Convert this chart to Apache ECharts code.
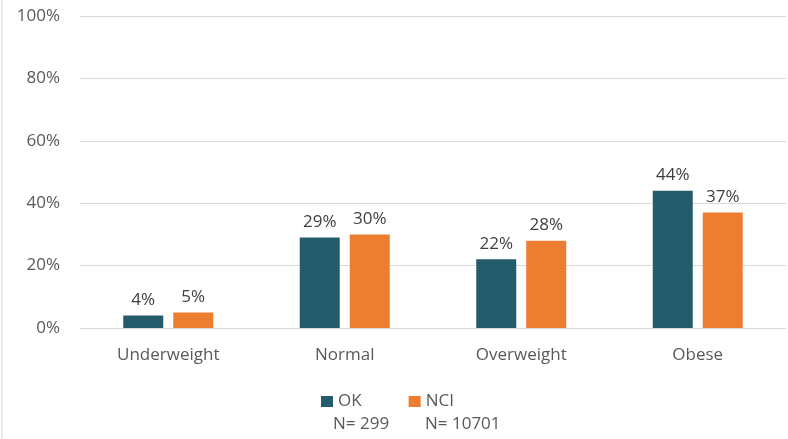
<!DOCTYPE html>
<html>
<head>
<meta charset="utf-8">
<script src="https://cdn.jsdelivr.net/npm/echarts@6/dist/echarts.min.js"></script>
<style>html,body{margin:0;padding:0;background:#fff}#c{width:788px;height:439px}</style>
</head>
<body>
<div id="c"></div>
<script>
var categories = ['Underweight', 'Normal', 'Overweight', 'Obese'];
var okValues = [4, 29, 22, 44];
var nciValues = [5, 30, 28, 37];
var yTicks = [0, 20, 40, 60, 80, 100];
var seriesNames = ['OK', 'NCI'];
var sampleSizes = ['N= 299', 'N= 10701'];

var FONT = '"Open Sans", sans-serif';
var chart = echarts.init(document.getElementById('c'), null, {renderer: 'canvas'});
chart.setOption({
  animation: false,
  textStyle: {fontFamily: FONT},
  grid: {left: 80, right: 2, top: 16, bottom: 111, containLabel: false},
  legend: {
    data: seriesNames,
    left: 316, top: 388,
    itemWidth: 12, itemHeight: 11, itemGap: 47,
    icon: 'rect',
    textStyle: {fontSize: 17, color: '#595959', fontFamily: FONT}
  },
  graphic: [
    {type: 'line', shape: {x1: 2, y1: 0, x2: 2, y2: 439}, style: {stroke: '#d9d9d9', lineWidth: 1}},
    {type: 'text', left: 333, top: 416, style: {text: sampleSizes[0], fontSize: 17, fill: '#595959', fontFamily: FONT}},
    {type: 'text', left: 425, top: 416, style: {text: sampleSizes[1], fontSize: 17, fill: '#595959', fontFamily: FONT}}
  ],
  xAxis: {
    type: 'category',
    data: categories,
    axisLine: {lineStyle: {color: '#d9d9d9', width: 1}},
    axisTick: {show: false},
    axisLabel: {fontSize: 17, color: '#595959', margin: 19, fontFamily: FONT}
  },
  yAxis: {
    type: 'value',
    min: 0, max: 100, interval: 20,
    axisLine: {show: false},
    axisTick: {show: false},
    splitLine: {lineStyle: {color: '#d9d9d9', width: 1}},
    axisLabel: {fontSize: 17, color: '#595959', margin: 20, fontFamily: FONT,
      formatter: function (v) { return yTicks.indexOf(v) >= 0 ? v + '%' : ''; }}
  },
  series: [
    {name: seriesNames[0], type: 'bar', data: okValues, barWidth: 40, barGap: '25%',
      itemStyle: {color: '#245C6C'},
      label: {show: true, position: 'top', distance: 7, fontSize: 17, color: '#404040', fontFamily: FONT, formatter: '{c}%'}},
    {name: seriesNames[1], type: 'bar', data: nciValues, barWidth: 40,
      itemStyle: {color: '#ED7D31'},
      label: {show: true, position: 'top', distance: 7, fontSize: 17, color: '#404040', fontFamily: FONT, formatter: '{c}%'}}
  ]
});
</script>
</body>
</html>
